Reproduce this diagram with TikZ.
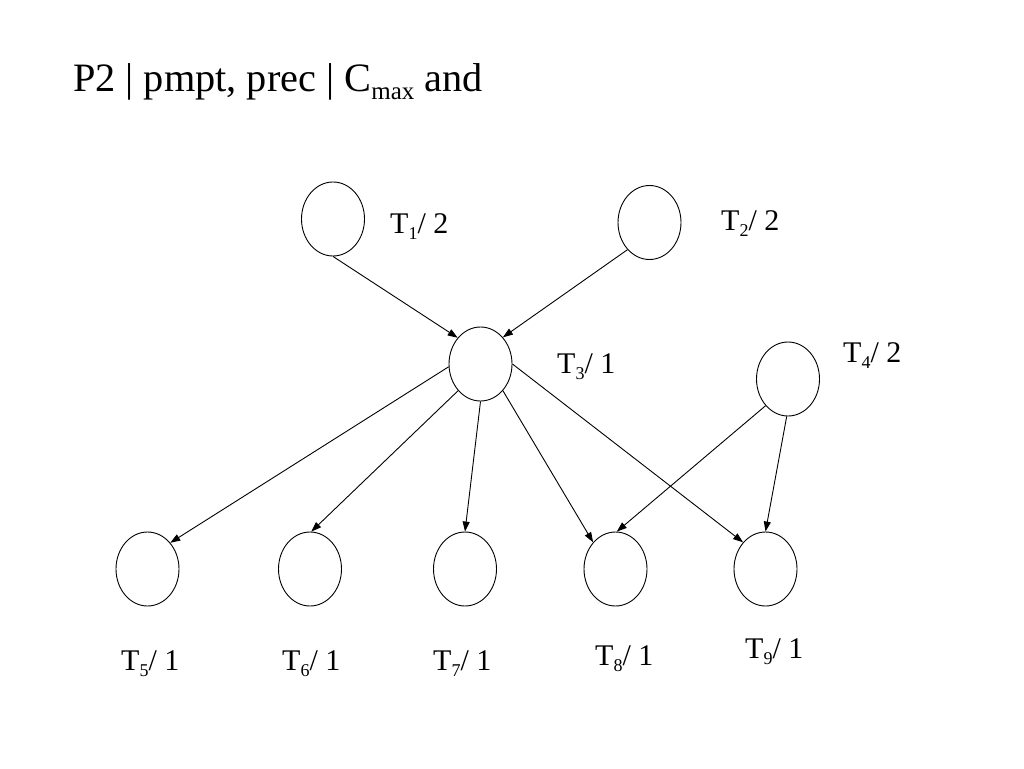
\documentclass[tikz,border=0pt]{standalone}
\usepackage{fontspec}
\setmainfont{Liberation Serif}
\usetikzlibrary{shapes.geometric,arrows.meta}
\tikzset{
  task/.style={draw=black, line width=0.9pt, ellipse, minimum width=63pt, minimum height=74pt, inner sep=0pt},
  lbl/.style={anchor=base west, inner sep=0pt, font=\fontsize{30}{34}\selectfont},
  arc/.style={draw=black, line width=0.9pt, -{Triangle[length=10pt,width=7pt]}}
}
\newcommand{\sbs}[1]{\raisebox{-6pt}{\fontsize{18}{20}\selectfont #1}}
\newcommand{\tsbs}[1]{\raisebox{-8pt}{\fontsize{25}{28}\selectfont #1}}
\newcommand{\tk}[2]{T\sbs{#1}/ #2}
\begin{document}
\begin{tikzpicture}[x=1pt,y=-1pt]
\useasboundingbox[fill=white] (0,0) rectangle (1024,768);
\node[anchor=base west, inner sep=0pt, font=\fontsize{40.3}{44}\selectfont] (title) at (73,91) {P2 | pmpt, prec | C\tsbs{max} and};
\node[task] (t1) at (333,219) {};
\node[task] (t2) at (649.5,222.5) {};
\node[task] (t3) at (480.5,364) {};
\node[task] (t4) at (788,379) {};
\node[task] (t5) at (147.5,569) {};
\node[task] (t6) at (310,569) {};
\node[task] (t7) at (465,569) {};
\node[task] (t8) at (615.5,569) {};
\node[task] (t9) at (765.5,569) {};
\node[lbl] (l1) at (390,233) {\tk{1}{2}};
\node[lbl] (l2) at (721,230) {\tk{2}{2}};
\node[lbl] (l3) at (557,373) {\tk{3}{1}};
\node[lbl] (l4) at (843,362) {\tk{4}{2}};
\node[lbl] (l5) at (121,670) {\tk{5}{1}};
\node[lbl] (l6) at (282,670) {\tk{6}{1}};
\node[lbl] (l7) at (433,670) {\tk{7}{1}};
\node[lbl] (l8) at (595,665) {\tk{8}{1}};
\node[lbl] (l9) at (745,658) {\tk{9}{1}};
\draw[arc] (t1.south) -- (t3.131);
\draw[arc] (t2.231) -- (t3.50);
\draw[arc] (t3.185) -- (t5.49);
\draw[arc] (t3.230) -- (t6.88);
\draw[arc] (t3.south) -- (t7.north);
\draw[arc] (t3.310) -- (t8.130);
\draw[arc] (t3.east) -- (t9.130);
\draw[arc] (t4.230) -- (t8.88);
\draw[arc] (t4.268) -- (t9.north);
\end{tikzpicture}
\end{document}
